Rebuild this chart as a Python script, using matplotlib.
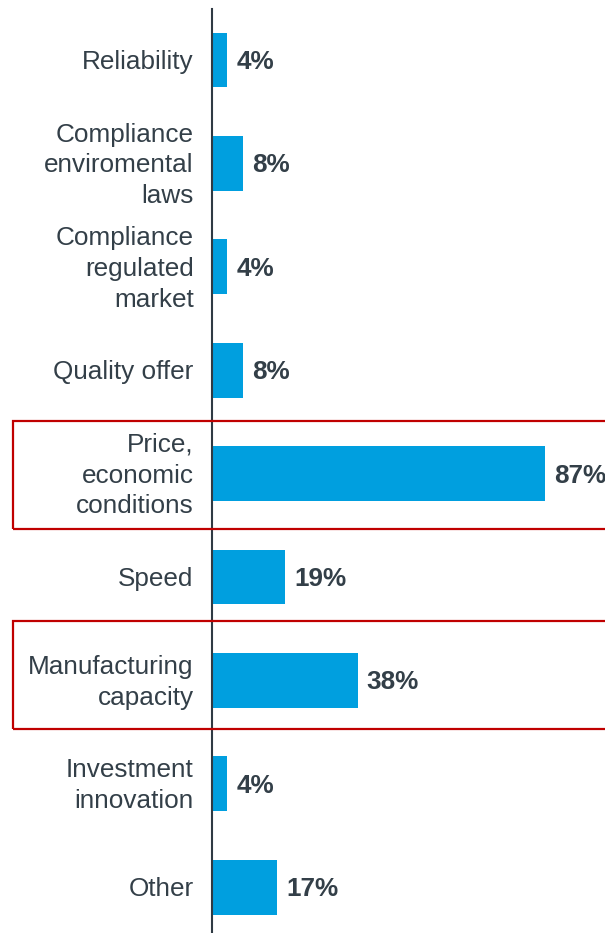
import matplotlib.pyplot as plt
from matplotlib.patches import Rectangle

categories = [
    "Reliability",
    "Compliance\nenviromental\nlaws",
    "Compliance\nregulated\nmarket",
    "Quality offer",
    "Price,\neconomic\nconditions",
    "Speed",
    "Manufacturing\ncapacity",
    "Investment\ninnovation",
    "Other",
]
shares = [4, 8, 4, 8, 87, 19, 38, 4, 17]
highlighted = ["Price,\neconomic\nconditions", "Manufacturing\ncapacity"]

BAR = "#009fdf"
TEXT = "#333f48"
RED = "#c00000"

plt.rcParams["font.family"] = ["Liberation Sans", "DejaVu Sans"]

W, H = 605, 933
fig = plt.figure(figsize=(W / 100, H / 100), dpi=100)
ax = fig.add_axes([212 / W, 0, 1 - 212 / W, 1 - 9 / H])

y = list(range(len(categories)))
ax.barh(y, shares, height=0.53, color=BAR)
ax.set_xlim(0, (W - 212) / 3.83)
ax.set_ylim(8.443, -0.493)

for yi, v, name in zip(y, shares, categories):
    ax.text(v + 2.4, yi + 0.02, f"{v}%", va="center", ha="left",
            fontsize=18.8, fontweight="bold", color=TEXT)
    ax.text(-4.8, yi + 0.02, name, va="center", ha="right", fontsize=18.8,
            color=TEXT, linespacing=1.36, clip_on=False)

for s in ["top", "right", "bottom"]:
    ax.spines[s].set_visible(False)
ax.spines["left"].set_color("#2f3a44")
ax.spines["left"].set_linewidth(1.5)
ax.set_xticks([])
ax.set_yticks([])

# red frames around the key drivers (pixel extents of each frame)
frames = {highlighted[0]: (421, 529), highlighted[1]: (621, 729)}
for name, (top, bottom) in frames.items():
    fig.patches.append(Rectangle((13 / W, 1 - bottom / H), (W + 10 - 13) / W,
                                 (bottom - top) / H, transform=fig.transFigure,
                                 fill=False, edgecolor=RED, linewidth=1.6))

fig.savefig("out.png", dpi=100)
